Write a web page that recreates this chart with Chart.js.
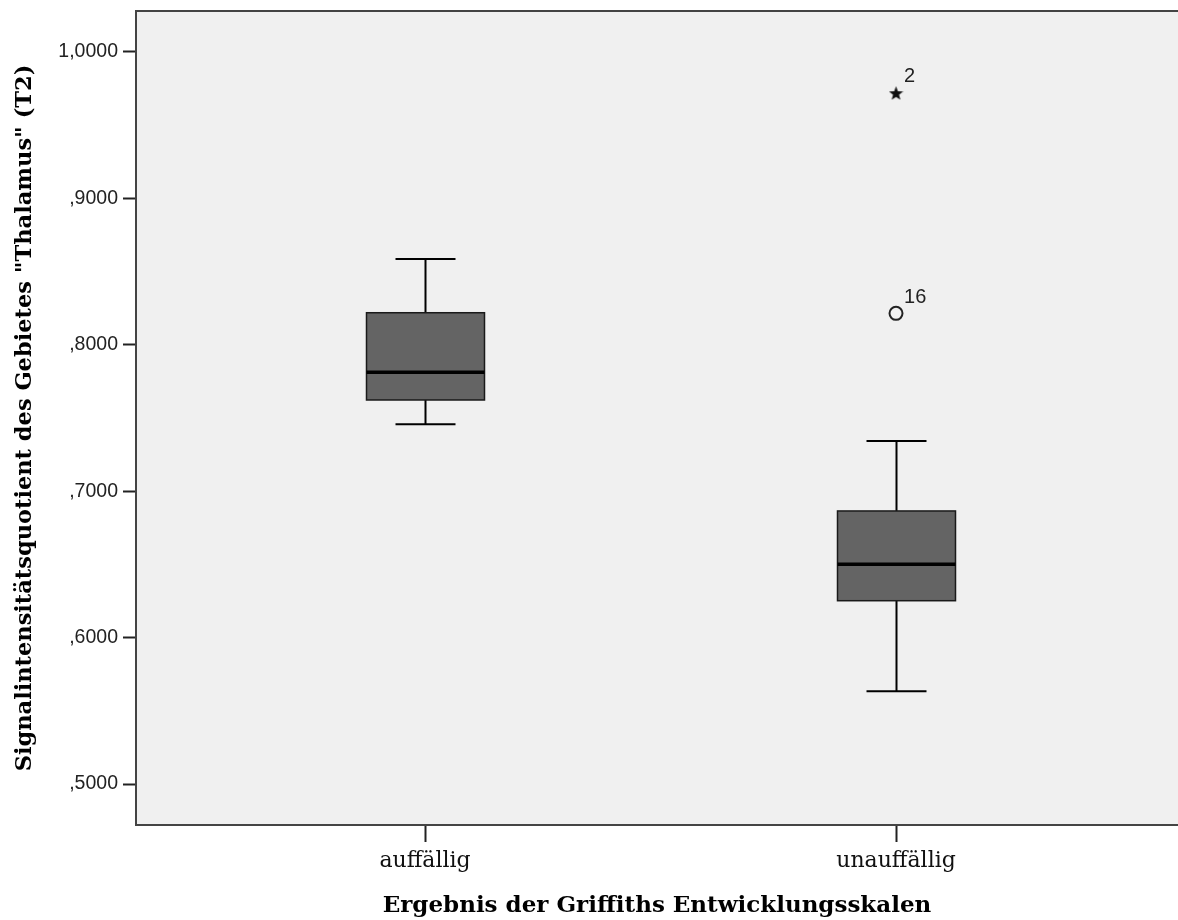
<!DOCTYPE html>
<html>
<head>
<meta charset="utf-8">
<title>Signalintensitätsquotient Thalamus</title>
<script src="https://cdn.jsdelivr.net/npm/chart.js@4.4.1/dist/chart.umd.min.js"></script>
<style>
    html, body { margin: 0; padding: 0; background: #fff; }
    #wrap { width: 1178px; height: 920px; }
</style>
</head>
<body>
<div id="wrap"><canvas id="boxChart"></canvas></div>
<script>
// ============ DATA ============

const categories = ["auffällig", "unauffällig"];
const whiskerLow = [0.7457, 0.5633];
const q1 = [0.7623, 0.6252];
const median = [0.7812, 0.6501];
const q3 = [0.8219, 0.6865];
const whiskerHigh = [0.8586, 0.7343];

// outliers: which category (1-based), value, case number, SPSS marker kind
const outlierCategory = [2, 2];
const outlierValues = [0.9722, 0.8215];
const outlierLabels = ["2", "16"];
const outlierKinds = ["extreme", "outlier"];

const yTicks = [0.5, 0.6, 0.7, 0.8, 0.9, 1.0];

// ============ STYLE ============

const PLOT_BG = "#f0f0f0";
const BOX_FILL = "#646464";
const FRAME = "#444";
const BOX_HALF = 59;
const CAP_HALF = 30;
const SANS = "'Liberation Sans', Arial, sans-serif";
const SERIF = "'DejaVu Serif', serif";

// ============ HELPERS ============

function formatTick(v) {
    // SPSS style: 1,0000  ,9000
    let s = v.toFixed(4).replace(".", ",");
    if (s.startsWith("0")) s = s.substring(1);
    return s;
}

function makeStar(size) {
    const c = document.createElement("canvas");
    c.width = size;
    c.height = size;
    const g = c.getContext("2d");
    const r = size / 2, ri = r * 0.42;
    g.beginPath();
    for (let k = 0; k < 10; k++) {
        const a = -Math.PI / 2 + k * Math.PI / 5;
        const rr = k % 2 ? ri : r;
        g.lineTo(r + rr * Math.cos(a), r + 1 + rr * Math.sin(a));
    }
    g.closePath();
    g.fillStyle = "#111";
    g.fill();
    return c;
}

function line(ctx, x1, y1, x2, y2) {
    ctx.beginPath();
    ctx.moveTo(x1, y1);
    ctx.lineTo(x2, y2);
    ctx.stroke();
}

// no label overhang padding - plot area is fixed like in SPSS
function noPadding(s) {
    s.paddingTop = 0;
    s.paddingBottom = 0;
    s.paddingLeft = 0;
    s.paddingRight = 0;
}

// ============ PLUGINS ============

const plotBackground = {
    id: "plotBackground",
    beforeDraw(chart) {
        const { ctx, chartArea: a } = chart;
        ctx.save();
        ctx.fillStyle = PLOT_BG;
        ctx.fillRect(a.left, a.top, a.right - a.left, a.bottom - a.top);
        ctx.restore();
    },
    afterDraw(chart) {
        const { ctx, chartArea: a } = chart;
        ctx.save();
        ctx.strokeStyle = FRAME;
        ctx.lineWidth = 2;
        line(ctx, a.left - 1, a.top, a.right, a.top);
        ctx.restore();
    }
};

const boxPlot = {
    id: "boxPlot",
    beforeDatasetsDraw(chart) {
        const { ctx, scales: { x, y } } = chart;
        ctx.save();
        categories.forEach((c, i) => {
            const cx = Math.round(x.getPixelForValue(i + 1)) + 0.5;
            const yLo = y.getPixelForValue(whiskerLow[i]);
            const yQ1 = y.getPixelForValue(q1[i]);
            const yMed = y.getPixelForValue(median[i]);
            const yQ3 = y.getPixelForValue(q3[i]);
            const yHi = y.getPixelForValue(whiskerHigh[i]);

            // whiskers + caps
            ctx.strokeStyle = "#000";
            ctx.lineWidth = 2;
            line(ctx, cx, yHi, cx, yQ3);
            line(ctx, cx, yQ1, cx, yLo);
            line(ctx, cx - CAP_HALF, yHi, cx + CAP_HALF, yHi);
            line(ctx, cx - CAP_HALF, yLo, cx + CAP_HALF, yLo);

            // box
            ctx.fillStyle = BOX_FILL;
            ctx.fillRect(cx - BOX_HALF, yQ3, BOX_HALF * 2, yQ1 - yQ3);
            ctx.strokeStyle = "#1a1a1a";
            ctx.lineWidth = 1.5;
            ctx.strokeRect(cx - BOX_HALF, yQ3, BOX_HALF * 2, yQ1 - yQ3);

            // median
            ctx.strokeStyle = "#000";
            ctx.lineWidth = 3.5;
            line(ctx, cx - BOX_HALF, yMed, cx + BOX_HALF, yMed);
        });
        ctx.restore();
    },
    afterDatasetsDraw(chart) {
        const { ctx } = chart;
        const meta = chart.getDatasetMeta(0);
        ctx.save();
        ctx.font = "20px " + SANS;
        ctx.fillStyle = "#222";
        ctx.textAlign = "left";
        ctx.textBaseline = "alphabetic";
        meta.data.forEach((pt, i) => {
            ctx.fillText(outlierLabels[i], pt.x + 8, pt.y - 10.5);
        });
        ctx.restore();
    }
};

// ============ CHART ============

const starImg = makeStar(15);

new Chart(document.getElementById("boxChart"), {
    type: "scatter",
    data: {
        datasets: [{
            data: outlierValues.map((v, i) => ({ x: outlierCategory[i], y: v })),
            pointStyle: outlierKinds.map(k => k === "extreme" ? starImg : "circle"),
            pointRadius: 6.5,
            borderWidth: 2,
            borderColor: "#222",
            backgroundColor: "rgba(0,0,0,0)",
            clip: false
        }]
    },
    options: {
        responsive: true,
        maintainAspectRatio: false,
        animation: false,
        layout: { autoPadding: false, padding: { top: 11, right: 0, left: 0, bottom: 0 } },
        plugins: {
            legend: { display: false },
            tooltip: { enabled: false }
        },
        scales: {
            x: {
                type: "linear",
                min: 0.3864,
                max: 2.5987,
                afterBuildTicks: s => { s.ticks = categories.map((c, i) => ({ value: i + 1 })); },
                afterFit: s => { s.height = 95; noPadding(s); },
                grid: {
                    drawOnChartArea: false,
                    drawTicks: true,
                    tickLength: 17,
                    tickWidth: 2,
                    tickColor: "#222"
                },
                border: { display: true, color: FRAME, width: 2 },
                ticks: {
                    padding: 6,
                    color: "#111",
                    font: { family: SERIF, size: 22 },
                    callback: v => categories[v - 1] || ""
                },
                title: {
                    display: true,
                    text: "Ergebnis der Griffiths Entwicklungsskalen",
                    color: "#000",
                    font: { family: SERIF, size: 23, weight: "bold", lineHeight: 1 },
                    padding: { top: 0, bottom: 2 }
                }
            },
            y: {
                min: 0.472,
                max: 1.028,
                afterBuildTicks: s => { s.ticks = yTicks.map(v => ({ value: v })); },
                afterFit: s => { s.width = 136; noPadding(s); },
                grid: {
                    drawOnChartArea: false,
                    drawTicks: true,
                    tickLength: 13,
                    tickWidth: 2,
                    tickColor: "#222"
                },
                border: { display: true, color: FRAME, width: 2 },
                ticks: {
                    padding: 5,
                    color: "#222",
                    font: { family: SANS, size: 19.5 },
                    callback: v => formatTick(v)
                },
                title: {
                    display: true,
                    text: "Signalintensitätsquotient des Gebietes \"Thalamus\" (T2)",
                    color: "#000",
                    font: { family: SERIF, size: 22.5, weight: "bold", lineHeight: 1 },
                    padding: { top: 13.5, bottom: 0 }
                }
            }
        }
    },
    plugins: [plotBackground, boxPlot]
});
</script>
</body>
</html>
